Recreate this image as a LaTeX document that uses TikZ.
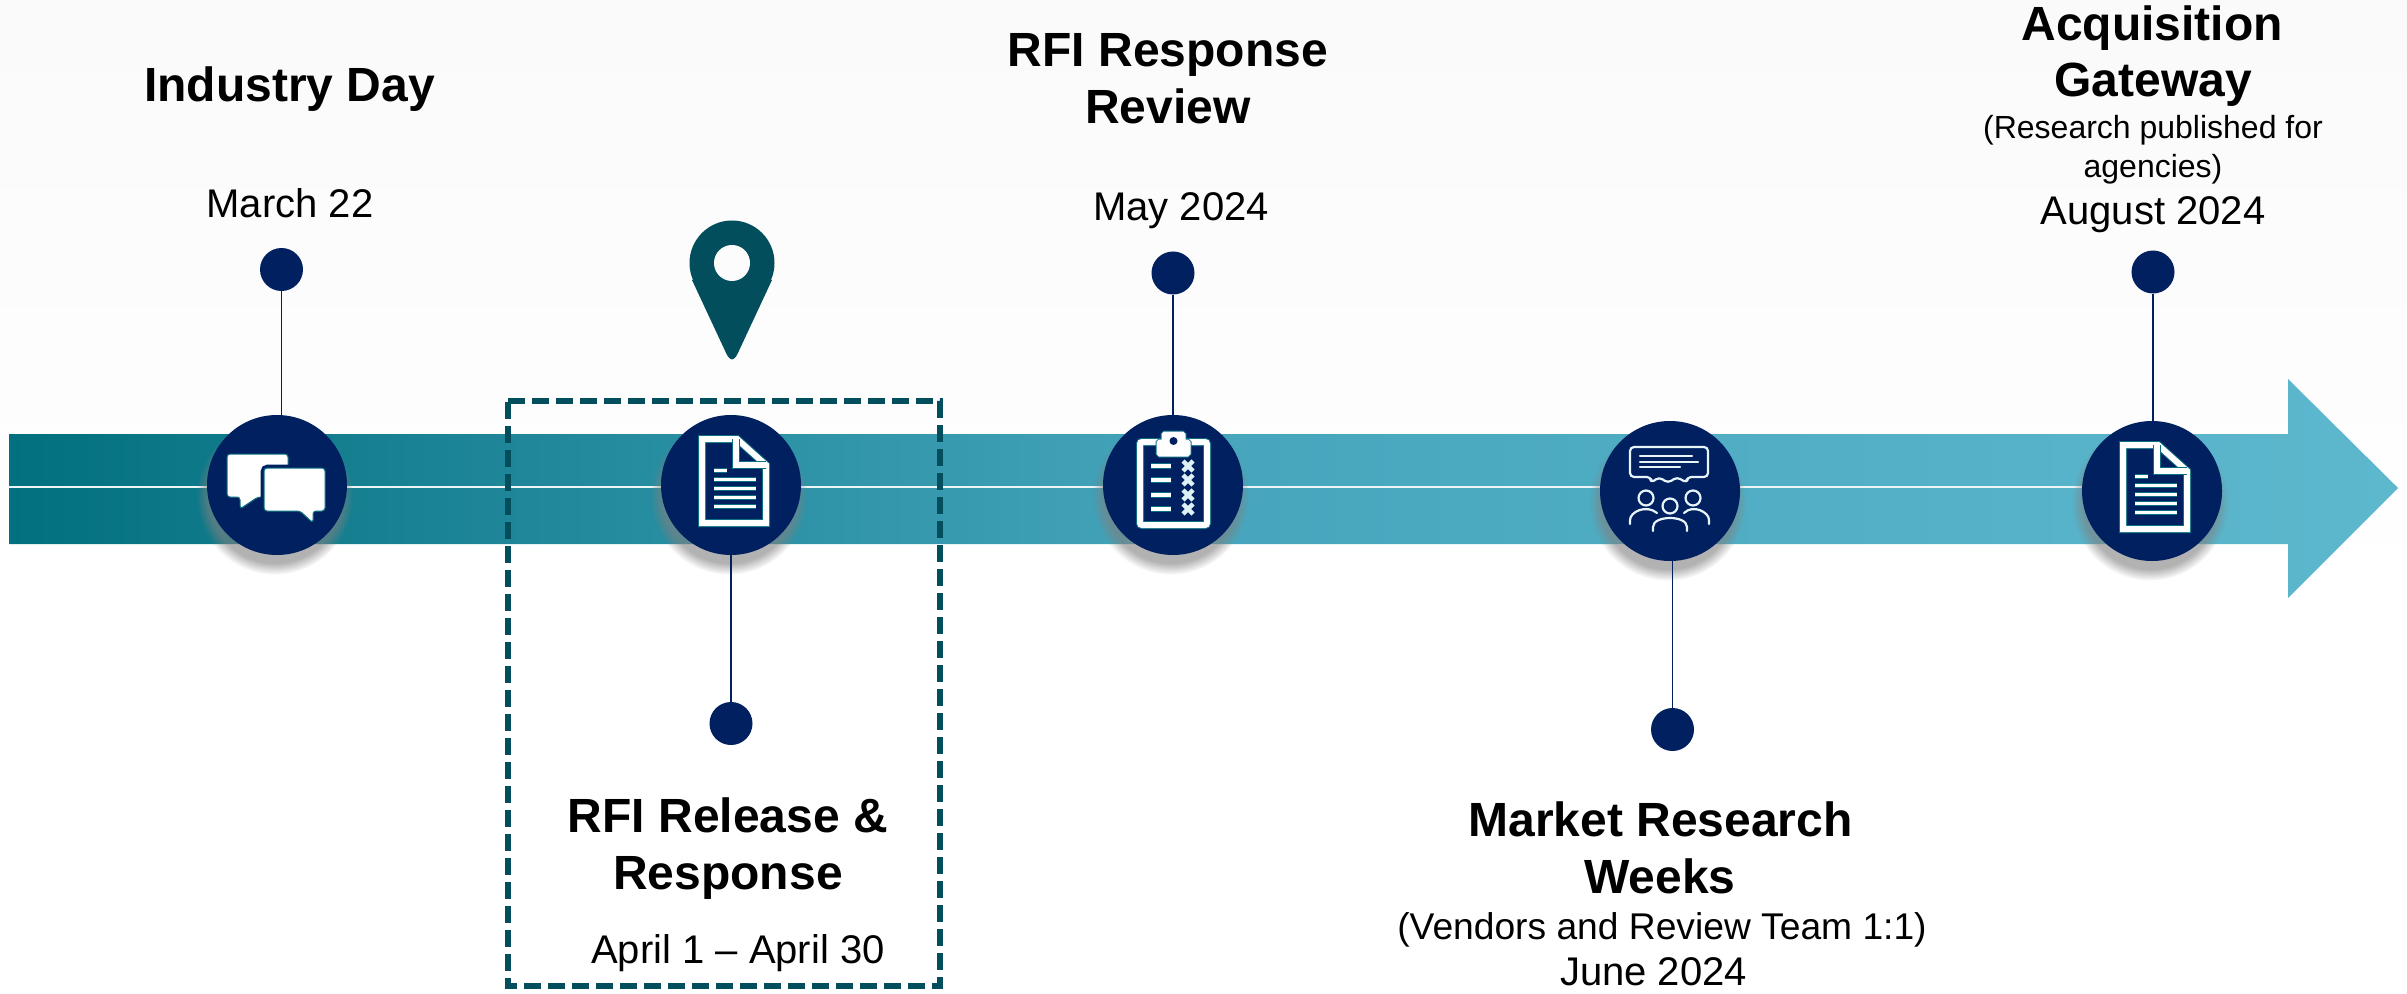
\documentclass[tikz,border=0pt]{standalone}
\usepackage{fontspec}
\setmainfont{Liberation Sans}
\usetikzlibrary{positioning,shadows,backgrounds}
\definecolor{navy}{HTML}{002060}
\definecolor{deepteal}{HTML}{034E5C}
\definecolor{rim}{HTML}{0B6E82}
\definecolor{barleft}{HTML}{02707F}
\definecolor{barmid}{HTML}{46A5BC}
\definecolor{barright}{HTML}{5DB8CE}
\tikzset{
    hub/.style={circle,fill=navy,minimum size=70pt,inner sep=0pt,on grid,circular drop shadow={shadow xshift=-1pt,shadow yshift=-5pt,shadow scale=1.12,opacity=.6}},
    dot/.style={circle,fill=navy,minimum size=21.5pt,inner sep=0pt,on grid},
    stem/.style={navy,line width=.7pt},
    title/.style={anchor=base,inner sep=0pt,font=\fontsize{24}{28}\selectfont\bfseries},
    when/.style={anchor=base,inner sep=0pt,font=\fontsize{20}{24}\selectfont},
    note/.style={anchor=base,inner sep=0pt,font=\fontsize{16}{20}\selectfont},
    wide/.style={anchor=base,inner sep=0pt,font=\fontsize{18.6}{22}\selectfont},
    wire/.style={draw=white,line width=#1,preaction={draw=rim,line width=#1+1pt}},
    slim/.style={draw=white!88!barright,line width=1.1pt,line cap=round},
    pics/docicon/.style={code={
        \draw[wire=3pt,miter limit=2] (-29,-46) -- (6,-46) -- (35,-20) -- (35,38) -- (-29,38) -- cycle;
        \draw[wire=3pt] (5,-46) -- (5,-20) -- (35,-20);
        \draw[wire=1.5pt] (-17,-15) -- (-4,-15);
        \foreach \y in {-6,3,12,21} \draw[wire=1.5pt] (-17,\y) -- (25,\y);
    }},
    pics/chaticon/.style={code={
        \draw[fill=white,draw=rim,line width=.5pt,rounded corners=1.5pt] (-50,-31) -- (11,-31) -- (11,12) -- (-19,12) -- (-37,24) -- (-37,12) -- (-50,12) -- cycle;
        \draw[fill=white,draw=navy,line width=3.5pt,rounded corners=2pt] (-13,-17) -- (48,-17) -- (48,26) -- (-13,26) -- cycle;
        \draw[fill=white,draw=rim,line width=.5pt,rounded corners=1.5pt] (-13,-17) -- (48,-17) -- (48,26) -- (36,26) -- (36,38) -- (23,26) -- (-13,26) -- cycle;
    }},
    pics/listicon/.style={code={
        \draw[wire=3pt,rounded corners=1pt] (-33,-43) -- (34,-43) -- (34,40) -- (-33,40) -- cycle;
        \draw[wire=2.5pt,fill=navy,rounded corners=.5pt] (-14,-43) -- (-14,-31) -- (15,-31) -- (15,-43) -- (10,-43) -- (10,-51) -- (-9,-51) -- (-9,-43) -- cycle;
        \fill[white] (-14,-43) rectangle (15,-33);
        \fill[white] (-9,-51) rectangle (10,-40);
        \fill[navy] (0.5,-44) circle [radius=4];
        \foreach \y in {-19,-5,10,24} {
            \draw[wire=2.2pt] (-22,\y) -- (-2,\y);
            \draw[draw=white!80!barright,line width=2.2pt] (10,\y-5) -- (20,\y+5) (20,\y-5) -- (10,\y+5);
        }
    }},
    pics/teamicon/.style={code={
        \begin{scope}[draw=white!85!barright,line width=1.1pt,line cap=round,line join=round]
        \draw[rounded corners=2pt] (-19,-14) -- (-40,-14) -- (-40,-44) -- (38,-44) -- (38,-14) -- (17,-14) -- (17,-8) -- (7,-14) -- (-2,-8) -- (-11,-14) -- (-19,-8) -- cycle;
        \draw (-30,-35) -- (22,-35) (-30,-29) -- (28,-29) (-30,-24) -- (10,-24);
        \draw (-24,7) circle [radius=7.5] (23,7) circle [radius=7.5] (0,15) circle [radius=7.5];
        \draw (-40,33) -- (-40,29) .. controls (-40,21) and (-24,13) .. (-13,22);
        \draw (39,33) -- (39,29) .. controls (39,21) and (23,13) .. (14,22);
        \draw (-17,40) -- (-17,36) .. controls (-17,24) and (17,24) .. (17,36) -- (17,40);
        \end{scope}
    }},
}
\begin{document}
\begin{tikzpicture}[x=.5pt,y=-.5pt]
    \useasboundingbox (0,0) rectangle (2407,994);
    \node (1) [hub] at (277,485) {};
    \node (2) [hub,right=227pt of 1] {};
    \node (3) [hub,right=221pt of 2] {};
    \node (4) [hub,below right=3pt and 248.5pt of 3] {};
    \node (5) [hub,right=241pt of 4] {};
    \node (dot1) [dot,above right=107.75pt and 2.25pt of 1] {};
    \node (dot2) [dot,below=119.25pt of 2] {};
    \node (dot3) [dot,above=106pt of 3] {};
    \node (dot4) [dot,below right=119.25pt and 1.25pt of 4] {};
    \node (dot5) [dot,above right=109.5pt and .5pt of 5] {};
    \draw[stem] (dot1) -- (dot1 |- 1.north);
    \draw[stem] (dot2) -- (dot2 |- 2.south);
    \draw[stem] (dot3) -- (dot3 |- 3.north);
    \draw[stem] (dot4) -- (dot4 |- 4.south);
    \draw[stem] (dot5) -- (dot5 |- 5.north);
    \coordinate (start) at (9,487);
    \begin{scope}[on background layer]
    \fill[white] (0,0) rectangle (2407,994);
    \shade[top color=black!2,bottom color=white] (0,0) rectangle (2407,600);
    \shade[left color=barleft,right color=barright,middle color=barmid] (9,434) -- (2288,434) -- (2288,379) -- (2398,488) -- (2288,598) -- (2288,544) -- (9,544) -- cycle;
    \draw[slim] (start) -- (start -| 5);
    \draw[deepteal,line width=3pt,dash pattern=on 8.5pt off 3.5pt] (508,401) -- (940,401) -- (940,986) -- (508,986) -- cycle;
    \end{scope}
    \fill[deepteal] (732,263) circle [radius=42.5];
    \fill[deepteal] (692,280) -- (727,355) .. controls (731,361) and (733,361) .. (737,355) -- (772,280) -- cycle;
    \fill[white!99!black] (732,263) circle [radius=18];
    \pic at (1) {chaticon};
    \pic at (2) {docicon};
    \pic at (3) {listicon};
    \pic at (4) {teamicon};
    \pic at (5) {docicon};
    \node (day) [title] at (289.5,102) {Industry Day};
    \node (march) [when] at (290,218) {March 22};
    \node (resp) [title] at (1168,67) {RFI Response};
    \node (review) [title] at (1168,124) {Review};
    \node (may) [when] at (1181,221) {May 2024};
    \node (acq) [title] at (2152,41) {Acquisition};
    \node (gate) [title] at (2153,97) {Gateway};
    \node (pub) [note] at (2153,139) {(Research published for};
    \node (agen) [note] at (2153,178) {agencies)};
    \node (aug) [when] at (2153,225) {August 2024};
    \node (rel) [title] at (728,832) {RFI Release \&};
    \node (resp2) [title] at (728,889) {Response};
    \node (april) [when] at (738,963) {April 1 – April 30};
    \node (market) [title] at (1660.5,836) {Market Research};
    \node (weeks) [title] at (1660,893) {Weeks};
    \node (vend) [wide] at (1662,939) {(Vendors and Review Team 1:1)};
    \node (june) [when] at (1653.5,985) {June 2024};
\end{tikzpicture}
\end{document}
